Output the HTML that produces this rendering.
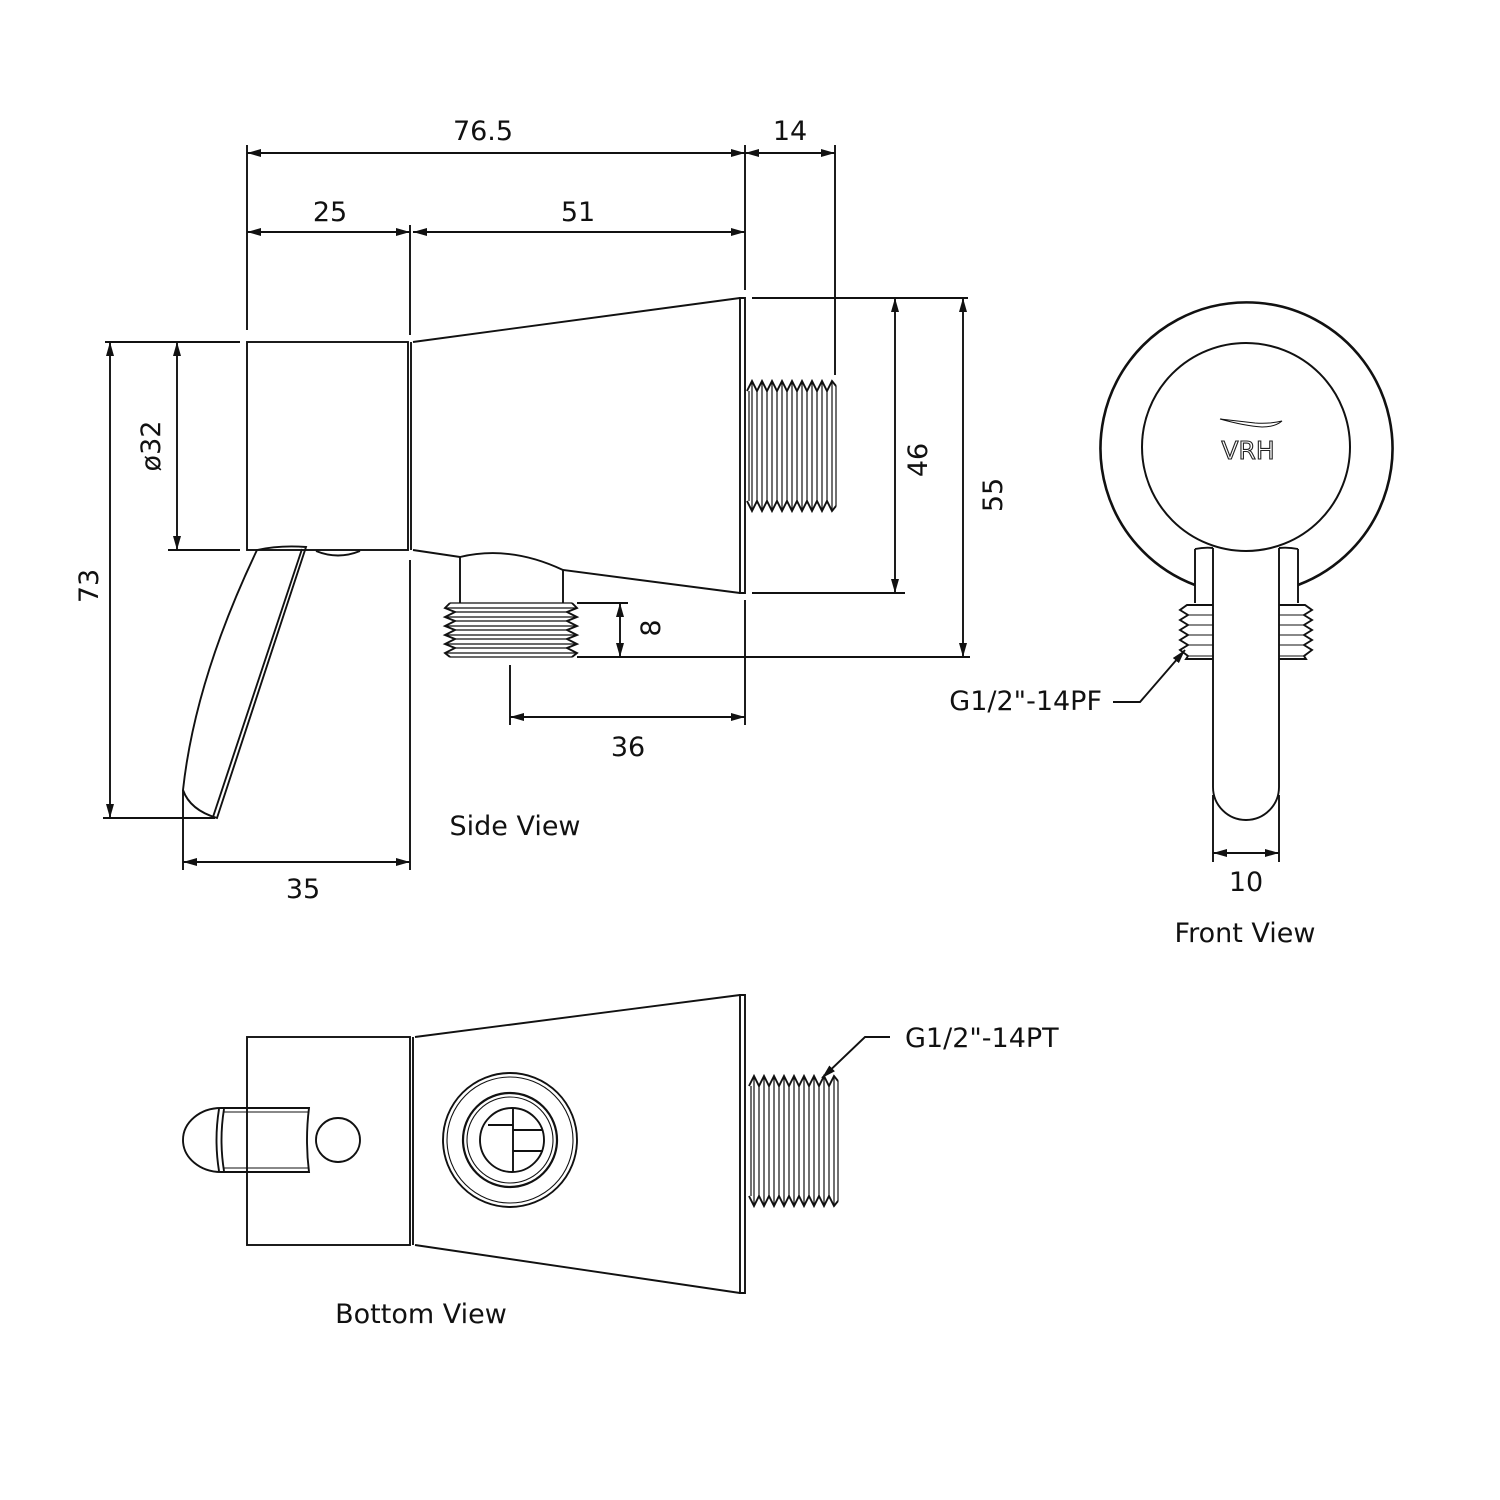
<!DOCTYPE html>
<html><head><meta charset="utf-8"><style>
html,body{margin:0;padding:0;background:#fff;}
svg{display:block;}
text{font-family:"DejaVu Sans","Liberation Sans",sans-serif;font-size:27px;fill:#111;}
</style></head><body>
<svg width="1500" height="1500" viewBox="0 0 1500 1500" xmlns="http://www.w3.org/2000/svg">
<defs>
<marker id="a" viewBox="0 0 14 8" refX="14" refY="4" markerWidth="14" markerHeight="8" markerUnits="userSpaceOnUse" orient="auto-start-reverse"><path d="M0,0 L14,4 L0,8 Z" fill="#111"/></marker>
<g id="thr">
<path d="M747,391 L752,381 L757,391 L762,381 L767,391 L772,381 L777,391 L782,381 L787,391 L792,381 L797,391 L802,381 L807,391 L812,381 L817,391 L822,381 L827,391 L832,381 L836,386" fill="none"/>
<path d="M747,501 L752,511 L757,501 L762,511 L767,501 L772,511 L777,501 L782,511 L787,501 L792,511 L797,501 L802,511 L807,501 L812,511 L817,501 L822,511 L827,501 L832,511 L836,506" fill="none"/>
<path d="M752,381V511M757,391V501M762,381V511M767,391V501M772,381V511M777,391V501M782,381V511M787,391V501M792,381V511M797,391V501M802,381V511M807,391V501M812,381V511M817,391V501M822,381V511M827,391V501M832,381V511M836,386V506M749,391V501" fill="none" stroke-width="1.2"/>
</g>
</defs>
<g stroke="#111" stroke-width="1.9" fill="none">
<!-- SIDE VIEW -->
<rect x="247" y="342" width="161" height="208"/>
<line x1="411" y1="342" x2="411" y2="550"/>
<path d="M413,342 L740,298 M413,550 L460,557 Q510,545 563,570 L740,593"/>
<path d="M740,298 L745,298 L745,593 L740,593 Z"/>
<use href="#thr"/>
<path d="M460,557 V603 M563,570 V603"/>
<path d="M450,603 L445,608 L455,612 L445,617 L455,621 L445,626 L455,630 L445,635 L455,639 L445,644 L455,648 L445,653 L450,657"/>
<path d="M572,603 L577,608 L567,612 L577,617 L567,621 L577,626 L567,630 L577,635 L567,639 L577,644 L567,648 L577,653 L572,657"/>
<path d="M450,603H572M445,608H577M455,612H567M445,617H577M455,621H567M445,626H577M455,630H567M445,635H577M455,639H567M445,644H577M455,648H567M445,653H577M450,657H572" stroke-width="1.2"/>
<path d="M257,550 Q280,545 306,547 L217,818 Q190,810 183,790 Q195,680 257,550 Z"/>
<path d="M302,549 L213,817"/>
<path d="M316,551 Q338,560 360,551"/>
<path d="M247,145V330 M745,145V290 M835,145V375 M410,225V335 M410,560V870"/>
<line x1="247" y1="153" x2="745" y2="153" marker-start="url(#a)" marker-end="url(#a)"/>
<line x1="745" y1="153" x2="835" y2="153" marker-start="url(#a)" marker-end="url(#a)"/>
<line x1="247" y1="232" x2="410" y2="232" marker-start="url(#a)" marker-end="url(#a)"/>
<line x1="413" y1="232" x2="745" y2="232" marker-start="url(#a)" marker-end="url(#a)"/>
<path d="M105,342H240 M168,550H240 M103,818H215 M183,790V870"/>
<line x1="177" y1="342" x2="177" y2="550" marker-start="url(#a)" marker-end="url(#a)"/>
<line x1="110" y1="342" x2="110" y2="818" marker-start="url(#a)" marker-end="url(#a)"/>
<line x1="183" y1="862" x2="410" y2="862" marker-start="url(#a)" marker-end="url(#a)"/>
<path d="M752,298H968 M752,593H905 M577,657H970 M577,603H628 M510,665V725 M745,600V725"/>
<line x1="895" y1="298" x2="895" y2="593" marker-start="url(#a)" marker-end="url(#a)"/>
<line x1="963" y1="298" x2="963" y2="657" marker-start="url(#a)" marker-end="url(#a)"/>
<line x1="620" y1="603" x2="620" y2="657" marker-start="url(#a)" marker-end="url(#a)"/>
<line x1="510" y1="717" x2="745" y2="717" marker-start="url(#a)" marker-end="url(#a)"/>
<!-- FRONT VIEW -->
<path d="M1195,585 A146,146 0 1 1 1298,585" stroke-width="2.6"/>
<circle cx="1246" cy="447" r="104" stroke-width="2"/>
<path d="M1195,549 V603 M1298,549 V603 M1195,549 Q1205,547 1213,548 M1298,549 Q1288,547 1279,548"/>
<path d="M1213,548 V787 A33,33 0 0 0 1279,787 V548" />
<path d="M1213,605 H1187 L1180,610 L1188,615 L1180,620 L1188,625 L1180,630 L1188,635 L1180,640 L1188,645 L1180,650 L1188,656 L1186,659 H1213"/>
<path d="M1188,615H1213M1188,625H1213M1188,635H1213M1188,645H1213M1188,656H1213" stroke-width="1.1"/>
<path d="M1279,605 H1305 L1312,610 L1304,615 L1312,620 L1304,625 L1312,630 L1304,635 L1312,640 L1304,645 L1312,650 L1304,656 L1306,659 H1279"/>
<path d="M1304,615H1279M1304,625H1279M1304,635H1279M1304,645H1279M1304,656H1279" stroke-width="1.1"/>
<path d="M1220,419 Q1245,426 1262,427 Q1275,427 1282,421 Q1270,424 1255,423 Q1238,421 1220,419 Z" stroke-width="1"/>
<path d="M1213,795V862 M1279,795V862"/>
<line x1="1213" y1="853" x2="1279" y2="853" marker-start="url(#a)" marker-end="url(#a)"/>
<path d="M1113,702 H1140 L1185,650" marker-end="url(#a)"/>
<!-- BOTTOM VIEW -->
<rect x="247" y="1037" width="163" height="208"/>
<line x1="413" y1="1037" x2="413" y2="1245"/>
<path d="M415,1037 L740,995 M415,1245 L740,1293"/>
<path d="M740,995 L745,995 L745,1293 L740,1293 Z"/>
<g transform="translate(2,695)"><use href="#thr"/></g>
<path d="M221,1108 H309 Q305,1140 309,1172 H221 A38,32 0 0 1 221,1108 Z"/>
<path d="M219,1109 Q214,1140 219,1171 M224,1109 Q219,1140 224,1171"/>
<line x1="223" y1="1112" x2="309" y2="1112" stroke-width="1"/>
<line x1="223" y1="1168" x2="309" y2="1168" stroke-width="1"/>
<circle cx="338" cy="1140" r="22"/>
<circle cx="510" cy="1140" r="67"/>
<circle cx="510" cy="1140" r="63" stroke-width="1.1"/>
<circle cx="510" cy="1140" r="47" stroke-width="2.2"/>
<circle cx="510" cy="1140" r="43" stroke-width="1.1"/>
<circle cx="512" cy="1140" r="32"/>
<path d="M513,1108 V1172 M488,1125 H513 M513,1130 H543 M513,1151 H543"/>
<path d="M890,1037 H865 L822,1078" marker-end="url(#a)"/>
</g>
<text x="483" y="140" text-anchor="middle">76.5</text>
<text x="790" y="140" text-anchor="middle">14</text>
<text x="330" y="221" text-anchor="middle">25</text>
<text x="578" y="221" text-anchor="middle">51</text>
<text transform="translate(160,446) rotate(-90)" text-anchor="middle">ø32</text>
<text transform="translate(98,586) rotate(-90)" text-anchor="middle">73</text>
<text transform="translate(927,460) rotate(-90)" text-anchor="middle">46</text>
<text transform="translate(1002,495) rotate(-90)" text-anchor="middle">55</text>
<text transform="translate(660,628) rotate(-90)" text-anchor="middle">8</text>
<text x="628" y="756" text-anchor="middle">36</text>
<text x="303" y="898" text-anchor="middle">35</text>
<text x="515" y="835" text-anchor="middle">Side View</text>
<text x="1246" y="891" text-anchor="middle">10</text>
<text x="1245" y="942" text-anchor="middle">Front View</text>
<text x="1102" y="710" text-anchor="end">G1/2"-14PF</text>
<text x="905" y="1047">G1/2"-14PT</text>
<text x="421" y="1323" text-anchor="middle">Bottom View</text>
<text x="1248" y="459" text-anchor="middle" style="font-size:25px;fill:#fff;stroke:#222;stroke-width:1.1">VRH</text>
</svg>
</body></html>
